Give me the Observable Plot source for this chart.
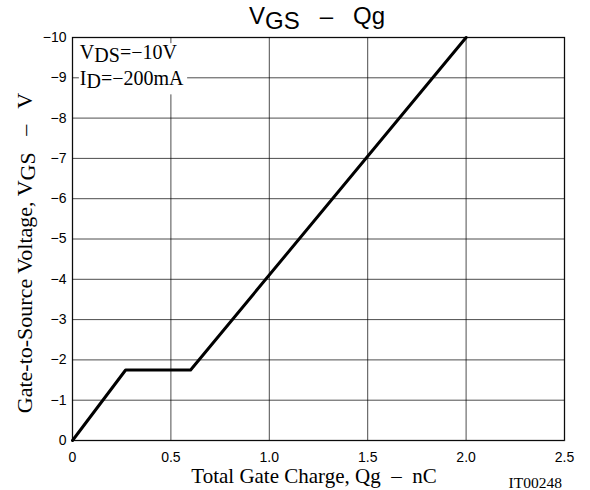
<!DOCTYPE html>
<html><head><meta charset="utf-8">
<script src="https://cdn.jsdelivr.net/npm/d3@7"></script>
<script src="https://cdn.jsdelivr.net/npm/@observablehq/plot@0.6"></script>
<style>body{margin:0;background:#fff}</style>
</head><body><div id="chart"></div>
<script>
const qg = [0, 0.27, 0.6, 2.0];
const vgs = [0, -1.75, -1.75, -10];
const xTicks = [0, 0.5, 1.0, 1.5, 2.0, 2.5];
const xTickLabels = ["0", "0.5", "1.0", "1.5", "2.0", "2.5"];
const yTicks = [0, -1, -2, -3, -4, -5, -6, -7, -8, -9, -10];
const yTickLabels = ["0", "−1", "−2", "−3", "−4", "−5", "−6", "−7", "−8", "−9", "−10"];
const noteX = [0.04, 0.04];
const noteY = [-9.45, -8.8];
const noteMain = ["V", "I"];
const noteSub = ["DS", "D"];
const noteRest = ["=−10V", "=−200mA"];

const data = qg.map((q, i) => ({q, v: vgs[i]}));
const sans = "'Liberation Sans', Arial, sans-serif";
const serif = "'Liberation Serif', 'Times New Roman', serif";

const chart = Plot.plot({
  width: 590, height: 490,
  marginLeft: 72, marginRight: 26, marginTop: 37, marginBottom: 50,
  style: {fontFamily: sans, fontSize: "14px", color: "#000", background: "#fff"},
  x: {domain: [0, 2.5], label: null},
  y: {domain: [0, -10], label: null},
  marks: [
    Plot.gridX(xTicks, {stroke: "#000", strokeOpacity: 0.7, strokeWidth: 1}),
    Plot.gridY(yTicks, {stroke: "#000", strokeOpacity: 0.7, strokeWidth: 1}),
    Plot.axisX(xTicks, {tickSize: 0, tickPadding: 12, fontSize: 14, tickFormat: d => xTickLabels[xTicks.indexOf(d)], label: null}),
    Plot.axisY(yTicks, {tickSize: 0, tickPadding: 6, fontSize: 14, tickFormat: d => yTickLabels[yTicks.indexOf(d)], label: null}),
    Plot.line(data, {x: "q", y: "v", stroke: "#000", strokeWidth: 3}),
    Plot.frame({stroke: "#000", strokeOpacity: 0.85, strokeWidth: 1.3})
  ]
});
document.getElementById("chart").appendChild(chart);

const svg = d3.select(chart);
const sx = chart.scale("x"), sy = chart.scale("y");

// annotations with white background
const notes = svg.append("g");
const g2 = notes.append("g");
noteX.forEach((nx, i) => {
  const t = g2.append("text").attr("x", sx.apply(nx)).attr("y", sy.apply(noteY[i]))
    .attr("text-anchor", "start")
    .attr("font-family", serif).attr("font-size", 20).attr("fill", "#000");
  t.append("tspan").text(noteMain[i]);
  t.append("tspan").attr("dy", 3).text(noteSub[i]);
  t.append("tspan").attr("dy", -3).text(noteRest[i]);
});
const bb = g2.node().getBBox();
notes.insert("rect", ":first-child").attr("x", bb.x - 1).attr("y", bb.y + 2)
  .attr("width", bb.width + 4).attr("height", bb.height).attr("fill", "#fff");

// title
const title = svg.append("text").attr("x", 317).attr("y", 24)
  .attr("text-anchor", "middle").attr("font-family", sans).attr("font-size", 24).attr("fill", "#000")
  .attr("style", "white-space:pre");
title.append("tspan").text("V");
title.append("tspan").attr("dy", 5).text("GS");
title.append("tspan").attr("dy", -5).text("   –   Qg");

// x label
svg.append("text").attr("x", 314).attr("y", 483)
  .attr("text-anchor", "middle").attr("font-family", serif).attr("font-size", 21).attr("fill", "#000")
  .attr("style", "white-space:pre").text("Total Gate Charge, Qg  –  nC");

// y label
const yl = svg.append("text").attr("transform", "translate(32,253) rotate(-90)")
  .attr("text-anchor", "middle").attr("font-family", serif).attr("font-size", 22).attr("fill", "#000")
  .attr("style", "white-space:pre");
yl.append("tspan").text("Gate-to-Source Voltage, V");
yl.append("tspan").attr("dy", 3).text("GS");
yl.append("tspan").attr("dy", -3).text("   –   V");

// code
svg.append("text").attr("x", 562).attr("y", 488).attr("text-anchor", "end")
  .attr("font-family", serif).attr("font-size", 15.5).attr("fill", "#000").text("IT00248");
</script>
</body></html>
